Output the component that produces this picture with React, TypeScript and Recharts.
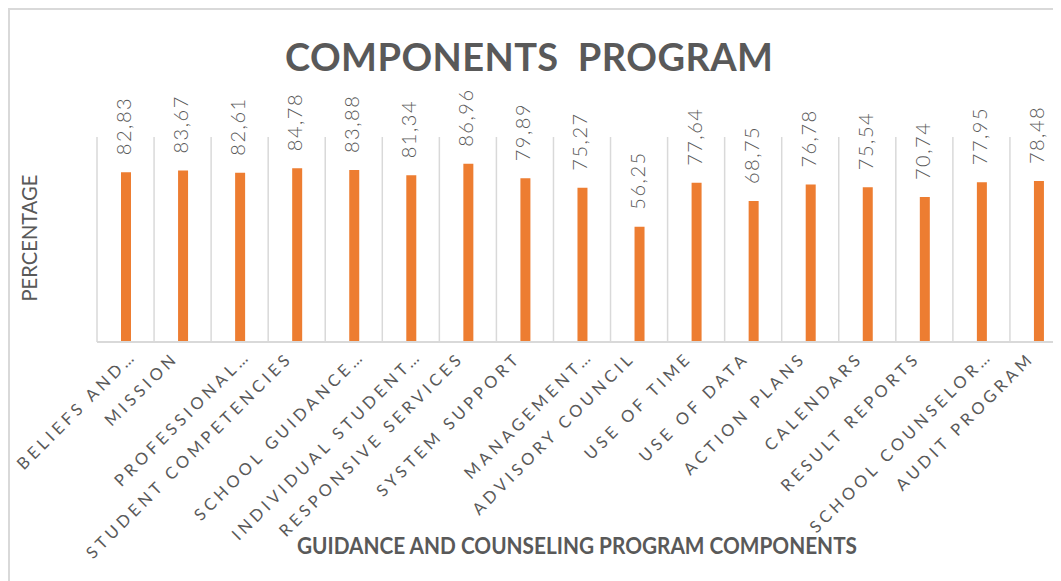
import { BarChart, Bar, XAxis, YAxis, CartesianGrid, LabelList } from 'recharts'

const categories = [
  'BELIEFS AND…',
  'MISSION',
  'PROFESSIONAL…',
  'STUDENT COMPETENCIES',
  'SCHOOL GUIDANCE…',
  'INDIVIDUAL STUDENT…',
  'RESPONSIVE SERVICES',
  'SYSTEM SUPPORT',
  'MANAGEMENT…',
  'ADVISORY COUNCIL',
  'USE OF TIME',
  'USE OF DATA',
  'ACTION PLANS',
  'CALENDARS',
  'RESULT REPORTS',
  'SCHOOL COUNSELOR…',
  'AUDIT PROGRAM',
]

const percentages = [
  82.83, 83.67, 82.61, 84.78, 83.88, 81.34, 86.96, 79.89, 75.27, 56.25, 77.64, 68.75, 76.78,
  75.54, 70.74, 77.95, 78.48,
]

const TITLE = 'COMPONENTS  PROGRAM'
const Y_TITLE = 'PERCENTAGE'
const X_TITLE = 'GUIDANCE AND COUNSELING PROGRAM COMPONENTS'

const data = categories.map((name, i) => ({ name, value: percentages[i] }))

const TEXT = '#595959'
const GRID = '#D9D9D9'
const ORANGE = '#ED7D31'
const FONT = 'Lato, "Open Sans", sans-serif'

function fmt(v: number): string {
  return v.toFixed(2).replace('.', ',')
}

function CategoryTick(props: any) {
  const { x, y, payload } = props
  // truncated labels sit a little further right in the original
  const cut = String(payload.value).endsWith('…')
  const px = x - 3 + (cut ? 15 : 0)
  const py = y + 9 - (cut ? 2 : 0)
  return (
    <text
      x={px}
      y={py}
      transform={`rotate(-45, ${px}, ${py})`}
      textAnchor="end"
      fill={TEXT}
      fontFamily={FONT}
      fontSize={16.5}
      letterSpacing={4}
    >
      {payload.value}
    </text>
  )
}

function ValueLabel(props: any) {
  const { x, y, width, value } = props
  const lx = x + width / 2 + 5
  const ly = y - 17
  return (
    <text
      x={lx}
      y={ly}
      transform={`rotate(-90, ${lx}, ${ly})`}
      textAnchor="start"
      fill={TEXT}
      fontFamily={FONT}
      fontWeight={300}
      fontSize={20}
      letterSpacing={1.5}
    >
      {fmt(value)}
    </text>
  )
}

export default function App() {
  const n = categories.length
  return (
    <div style={{ position: 'relative', width: 1053, height: 573, overflow: 'hidden', background: '#fff' }}>
      <div
        style={{
          position: 'absolute',
          left: 0,
          top: 0,
          width: 1120,
          height: 640,
          border: `2px solid ${GRID}`,
          boxSizing: 'border-box',
        }}
      />
      <div style={{ position: 'absolute', left: 0, top: 0 }}>
        <BarChart
          width={1090}
          height={600}
          data={data}
          margin={{ top: 129, right: 31, left: 89, bottom: 66 }}
          barCategoryGap={0}
        >
          <CartesianGrid
            horizontal={false}
            stroke={GRID}
            strokeWidth={1.5}
            verticalCoordinatesGenerator={({ offset }: any) =>
              Array.from({ length: n + 1 }, (_, i) => offset.left + (i * offset.width) / n)
            }
          />
          <XAxis
            dataKey="name"
            interval={0}
            height={200}
            tickLine={false}
            axisLine={{ stroke: GRID, strokeWidth: 2 }}
            tick={<CategoryTick />}
          />
          <YAxis hide domain={[0, 100]} />
          <Bar dataKey="value" fill={ORANGE} barSize={10} isAnimationActive={false}>
            <LabelList dataKey="value" content={<ValueLabel />} />
          </Bar>
        </BarChart>
      </div>
      <svg
        width={1053}
        height={573}
        style={{ position: 'absolute', left: 0, top: 0, pointerEvents: 'none' }}
      >
        <text
          x={521}
          y={63}
          textAnchor="middle"
          fill={TEXT}
          fontFamily={FONT}
          fontWeight={700}
          fontSize={38}
          textLength={488}
          style={{ whiteSpace: 'pre' }}
        >
          {TITLE}
        </text>
        <text
          x={29}
          y={230}
          transform="rotate(-90, 29, 230)"
          textAnchor="middle"
          fill={TEXT}
          fontFamily={FONT}
          fontSize={22}
          textLength={127}
          lengthAdjust="spacingAndGlyphs"
        >
          {Y_TITLE}
        </text>
        <text
          x={569}
          y={546}
          textAnchor="middle"
          fill={TEXT}
          fontFamily={FONT}
          fontWeight={700}
          fontSize={22}
          textLength={560}
          lengthAdjust="spacingAndGlyphs"
        >
          {X_TITLE}
        </text>
      </svg>
    </div>
  )
}
